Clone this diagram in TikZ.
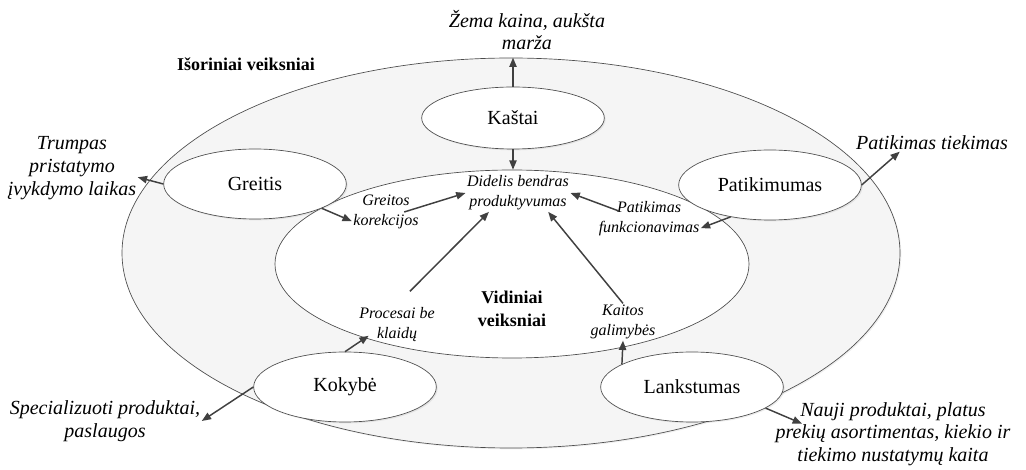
\documentclass[tikz,border=0pt]{standalone}
\usepackage{fontspec}
\setmainfont{Liberation Serif}
\usetikzlibrary{arrows.meta,shapes.geometric,shadows}

\begin{document}
\begin{tikzpicture}[x=0.75pt,y=-0.75pt,
  factor/.style={ellipse,draw=black!70,line width=0.5pt,fill=white,minimum width=137pt,minimum height=52.5pt,
    font=\fontsize{15}{17}\selectfont,drop shadow={opacity=0.15,shadow xshift=1pt,shadow yshift=-1pt}},
  goal/.style={align=center,inner sep=1pt,font=\fontsize{15}{17}\selectfont\itshape},
  aim/.style={align=center,inner sep=1pt,font=\fontsize{12}{15}\selectfont\itshape},
  title/.style={align=center,inner sep=1pt,font=\fontsize{13.5}{17}\selectfont\bfseries},
  flow/.style={draw=black!75,line width=1.1pt,-{Triangle[length=7pt,width=5.5pt]}}]
\useasboundingbox (0,0) rectangle (1026,470);
% two rings
\node[ellipse,draw=black!70,line width=0.5pt,fill=black!4,minimum width=583.5pt,minimum height=292.5pt,
  drop shadow={opacity=0.12,shadow xshift=1pt,shadow yshift=-1pt}] (outer) at (511,253) {};
\node[ellipse,draw=black!70,line width=0.5pt,fill=white,minimum width=355.5pt,minimum height=141pt] (inner) at (512,264) {};
\node[title] (isor) at (246,64) {Išoriniai veiksniai};
\node[title] (vidiniai) at (512,309) {Vidiniai\\veiksniai};
% the five factors
\node[factor,minimum height=46.5pt] (kastai) at (513,118) {Kaštai};
\node[factor] (greitis) at (255,184) {Greitis};
\node[factor] (patikimumas) at (770,185) {Patikimumas};
\node[factor] (kokybe) at (345,387) {Kokybė};
\node[factor] (lankstumas) at (692,387) {Lankstumas};
% outside
\node[goal] (zema) at (527,30) {Žema kaina, aukšta\\marža};
\node[goal] (trumpas) at (72,168) {Trumpas\\pristatymo\\įvykdymo laikas};
\node[goal] (tiekimas) at (932,143) {Patikimas tiekimas};
\node[goal] (spec) at (105,421) {Specializuoti produktai,\\paslaugos};
\node[goal] (nauji) at (893,434) {Nauji produktai, platus\\prekių asortimentas, kiekio ir\\tiekimo nustatymų kaita};
% inside
\node[aim] (didelis) at (518,193) {Didelis bendras\\produktyvumas};
\node[aim] (greitos) at (386,212) {Greitos\\korekcijos};
\node[aim] (patik) at (649,219) {Patikimas\\funkcionavimas};
\node[aim] (procesai) at (397,325) {Procesai be\\klaidų};
\node[aim] (kaitos) at (623,322) {Kaitos\\galimybės};
% arrows
\draw[flow] (kastai.north) -- (kastai.north |- outer.north);
\draw[flow] (kastai.south) -- (kastai.south |- inner.north);
\draw[flow] (greitis.west) -- (trumpas.-8);
\draw[flow] (greitis.-20) -- (greitos.195);
\draw[flow] ([xshift=-12pt]greitos.east) -- (didelis.west);
\draw[flow] ([shift={(22,11)}]patik.north west) -- (didelis.east);
\draw[flow] (patikimumas.219) -- (patik.-10);
\draw[flow] (patikimumas.east) -- (tiekimas.195);
\draw[flow] ([shift={(13,-15)}]procesai.north) -- (didelis.213);
\draw[flow] (kaitos.north) -- (didelis.-32);
\draw[flow] (kokybe.north) -- ([shift={(11,-8)}]procesai.south west);
\draw[flow] (kokybe.west) -- (spec.east);
\draw[flow] (lankstumas.162) -- (kaitos.south);
\draw[flow] (lankstumas.-16) -- ([shift={(28,23)}]nauji.north west);
\end{tikzpicture}
\end{document}
